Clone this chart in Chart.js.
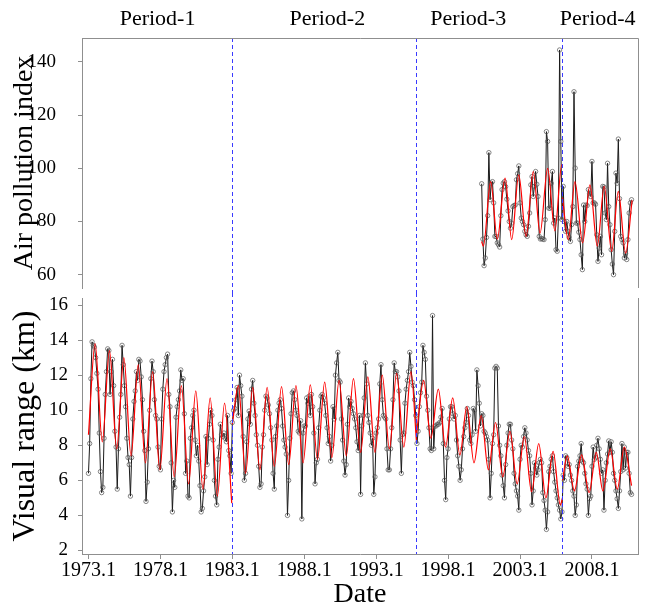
<!DOCTYPE html>
<html>
<head>
<meta charset="utf-8">
<script src="https://cdn.jsdelivr.net/npm/chart.js@4.4.1/dist/chart.umd.min.js"></script>
<style>
  html, body { margin: 0; padding: 0; background: #fff; }
  #wrap { position: relative; width: 646px; height: 609px; }
  #apiChart { position: absolute; left: 0; top: 0; }
  #visChart { position: absolute; left: 0; top: 293px; }
</style>
</head>
<body>
<div id="wrap">
  <canvas id="apiChart" width="646" height="293"></canvas>
  <canvas id="visChart" width="646" height="316"></canvas>
</div>
<script>
/* monthly visual range (km), Jan 1973 - Oct 2010 */
const visPeriod1 = [
  6.4, 8.1, 11.8, 13.9, 13.7, 13.6, 13.0, 12.1, 11.2, 8.7, 6.5, 5.3,   // 1973
  5.6, 8.4, 10.9, 12.2, 13.5, 13.4, 10.9, 12.2, 12.9, 11.4, 8.8, 7.9,  // 1974
  5.5, 7.8, 9.6, 10.9, 13.7, 12.6, 11.4, 10.2, 8.4, 7.3, 6.9, 5.1,     // 1975
  7.3, 9.5, 10.5, 11.1, 12.2, 11.7, 12.9, 12.8, 11.9, 10.6, 8.8, 7.7,  // 1976
  4.8, 5.9, 7.8, 10.0, 11.8, 12.8, 12.2, 10.6, 9.7, 9.5, 7.9, 6.8,     // 1977
  6.6, 9.5, 11.2, 12.2, 12.6, 13.0, 13.2, 10.9, 10.2, 7.0, 4.2, 6.0,   // 1978
  5.6, 9.6, 10.2, 10.6, 11.1, 12.3, 11.7, 11.8, 9.8, 6.4, 7.1, 5.1,    // 1979
  5.0, 8.4, 9.0, 9.7, 10.0, 8.3, 7.4, 8.0, 7.1, 5.7, 4.2, 4.4,         // 1980
  5.4, 6.2, 8.5, 6.9, 8.4, 9.2, 10.0, 9.7, 8.3, 6.0, 5.1, 4.6,         // 1981
  7.2, 7.9, 9.2, 8.6, 8.5, 8.7, 8.4, 8.2, 9.7, 7.7, 7.4, 6.4           // 1982
];
const visPeriod2 = [
  9.3, 10.0, 10.1, 10.6, 11.3, 9.7, 12.0, 11.4, 10.8, 8.5, 6.0, 6.4,   // 1983
  8.2, 9.5, 9.95, 9.2, 11.2, 11.7, 10.4, 9.7, 8.6, 8.0, 6.8, 5.6,      // 1984
  5.8, 7.9, 8.6, 10.0, 10.8, 10.7, 10.3, 9.8, 9.0, 8.3, 6.4, 5.5,      // 1985
  8.5, 9.1, 10.0, 10.4, 10.6, 10.1, 9.1, 8.3, 7.9, 7.5, 4.0, 6.0,      // 1986
  8.4, 9.8, 11.0, 11.1, 10.6, 10.0, 9.7, 8.8, 8.7, 9.4, 3.8, 8.7,      // 1987
  9.1, 9.1, 10.7, 10.4, 10.8, 9.7, 10.9, 10.2, 8.7, 5.8, 7.0, 7.2,     // 1988
  9.0, 10.0, 10.8, 10.9, 10.7, 10.4, 9.7, 9.0, 8.1, 8.5, 7.1, 8.0,     // 1989
  10.2, 9.5, 12.0, 12.7, 13.3, 11.7, 11.6, 9.5, 8.3, 7.1, 6.3, 6.9,    // 1990
  9.2, 10.7, 10.2, 10.5, 10.1, 9.8, 9.5, 9.0, 8.2, 7.7, 9.7, 5.2,      // 1991
  9.1, 9.7, 10.7, 12.7, 11.5, 9.7, 9.3, 8.7, 8.0, 8.4, 5.2, 6.2,       // 1992
  8.7, 9.0, 9.5, 11.5, 12.6, 10.6, 9.7, 9.6, 9.5, 7.8, 6.6, 6.6,       // 1993
  7.8, 9.0, 10.6, 12.7, 12.2, 12.2, 11.9, 11.1, 8.3, 6.4, 8.6, 8.7,    // 1994
  10.4, 11.2, 11.7, 12.2, 13.3, 12.5, 11.6, 11.4, 10.6, 9.7, 8.1, 8.8  // 1995
];
const visPeriod3 = [
  10.2, 11.0, 11.6, 13.7, 13.3, 12.9, 10.8, 10.0, 9.0, 7.8, 7.7, 15.4, // 1996
  7.8, 9.1, 9.1, 9.2, 9.2, 9.3, 9.6, 10.1, 8.1, 6.0, 4.9, 7.3,         // 1997
  7.8, 9.5, 10.2, 10.2, 9.8, 9.5, 9.7, 8.3, 7.4, 6.8, 6.0, 6.6,        // 1998
  7.8, 8.5, 9.0, 9.3, 10.1, 9.7, 8.3, 8.1, 8.6, 10.1, 10.0, 8.8,       // 1999
  12.3, 11.4, 10.4, 9.1, 9.8, 9.7, 8.8, 8.7, 8.5, 8.3, 7.2, 5.0,       // 2000
  6.4, 8.1, 8.6, 12.4, 12.5, 12.4, 9.1, 8.0, 7.4, 6.3, 5.7, 5.0,       // 2001
  6.9, 8.0, 8.7, 9.2, 9.2, 8.3, 7.8, 6.4, 5.8, 5.4, 5.1, 4.3,          // 2002
  7.2, 8.0, 7.9, 8.5, 9.0, 8.7, 8.3, 7.7, 7.4, 6.4, 4.6, 5.4,          // 2003
  7.0, 6.7, 6.3, 6.6, 7.0, 7.2, 7.0, 5.3, 4.85, 4.3, 3.2, 4.2,         // 2004
  6.5, 6.8, 7.2, 7.4, 6.5, 5.9, 5.4, 5.0, 4.6, 4.3, 3.8, 4.2           // 2005
];
const visPeriod4 = [
  6.3, 6.0, 7.4, 7.3, 6.8, 6.9, 6.3, 6.0, 5.4, 5.1, 4.0, 4.6,          // 2006
  6.8, 7.1, 7.4, 8.1, 7.1, 7.0, 6.4, 5.8, 5.5, 4.0, 4.95, 5.1,         // 2007
  6.8, 7.9, 7.2, 7.3, 8.0, 8.4, 7.8, 7.2, 6.4, 6.6, 4.3, 6.0,          // 2008
  7.0, 7.5, 8.25, 7.6, 8.2, 7.6, 6.4, 6.0, 5.4, 4.95, 4.4, 5.4,        // 2009
  6.5, 8.1, 6.6, 7.9, 6.7, 7.6, 7.6, 6.4, 5.3, 5.2                     // 2010
];

/* monthly air pollution index, May 2000 - Oct 2010 */
const apiPeriod3 = [
  94.2, 73.4, 63.4, 66.3, 74.0, 82.2, 105.9, 88.2,                     // 2000 (May-)
  94.4, 95.0, 87.0, 74.4, 74.4, 72.0, 71.3, 70.4, 82.2, 92.0, 94.4, 95.0,
  93.1, 88.4, 84.0, 80.0, 77.5, 79.4, 85.6, 86.0, 86.2, 95.7, 98.0, 100.9,
  87.0, 81.3, 80.0, 78.8, 76.3, 75.0, 74.4, 78.2, 83.2, 93.8, 96.9, 89.4,
  93.2, 98.8, 94.0, 89.4, 74.4, 73.4, 73.6, 73.4, 73.2, 80.7, 113.8, 110.1,
  85.0, 85.0, 94.4, 98.8, 79.4, 81.3, 69.4, 68.8, 81.3, 144.5, 110.1, 80.7
];
const apiPeriod4 = [
  93.2, 80.0, 76.3, 80.0, 76.3, 74.0, 72.5, 78.8, 85.6, 128.8, 100.1, 79.4, // 2006
  79.4, 76.0, 73.2, 67.5, 61.9, 86.2, 80.0, 86.2, 86.0, 92.0, 90.5, 89.4,   // 2007
  102.6, 87.0, 87.0, 86.5, 75.0, 65.0, 70.0, 74.4, 67.5, 93.2, 93.0, 83.2,  // 2008
  80.7, 101.9, 85.6, 78.8, 69.4, 64.0, 60.0, 76.3, 98.2, 94.4, 111.0, 88.6, // 2009
  74.4, 73.2, 72.0, 66.3, 68.0, 65.7, 73.2, 83.2, 87.0, 88.2                // 2010
];

/* fitted seasonal curves: [decimal year, value] at each turning point */
const visFit1 = [[1973.0, 8.6], [1973.46, 13.8], [1973.96, 8.2], [1974.46, 13.4], [1974.96, 7.8],
  [1975.46, 13.0], [1975.96, 7.4], [1976.46, 12.6], [1976.96, 7.0], [1977.46, 12.2], [1977.96, 6.6],
  [1978.46, 11.8], [1978.96, 6.2], [1979.46, 11.4], [1979.96, 5.8], [1980.46, 11.1], [1980.96, 5.5],
  [1981.46, 10.7], [1981.96, 5.1], [1982.46, 10.4], [1982.96, 4.7]];
const visFit2 = [[1983.0, 9.2], [1983.42, 11.4], [1983.92, 6.4], [1984.42, 11.3], [1984.92, 6.6],
  [1985.42, 11.3], [1985.92, 6.8], [1986.42, 11.35], [1986.92, 6.9], [1987.42, 11.4], [1987.92, 7.0],
  [1988.42, 11.45], [1988.92, 7.2], [1989.42, 11.6], [1989.92, 7.3], [1990.42, 11.7], [1990.92, 7.4],
  [1991.42, 11.8], [1991.92, 7.6], [1992.42, 11.9], [1992.92, 7.6], [1993.42, 12.0], [1993.92, 7.8],
  [1994.42, 12.1], [1994.92, 7.9], [1995.42, 12.2], [1995.8, 8.2]];
const visFit3 = [[1995.8, 8.6], [1996.3, 11.7], [1996.8, 8.4], [1997.32, 11.2], [1997.82, 7.9],
  [1998.32, 10.7], [1998.82, 7.45], [1999.3, 10.2], [1999.8, 7.0], [2000.3, 9.7], [2000.8, 6.6],
  [2001.3, 9.3], [2001.8, 6.2], [2002.3, 8.8], [2002.8, 5.8], [2003.3, 8.5], [2003.8, 5.35],
  [2004.3, 8.1], [2004.8, 5.0], [2005.3, 7.65], [2005.8, 4.6], [2005.95, 5.0]];
const visFit4 = [[2005.95, 6.0], [2006.28, 7.4], [2006.78, 5.4], [2007.28, 7.45], [2007.8, 5.3],
  [2008.3, 7.6], [2008.76, 5.4], [2009.27, 7.8], [2009.76, 5.5], [2010.25, 7.9], [2010.75, 5.7]];
const apiFit3 = [[2000.33, 72.5], [2000.45, 70.7], [2000.96, 95.0], [2001.42, 73.4], [2001.96, 96.3],
  [2002.42, 73.2], [2002.91, 97.5], [2003.42, 74.4], [2003.92, 98.8], [2004.39, 75.6], [2004.92, 100.0],
  [2005.42, 76.5], [2005.9, 101.3], [2005.95, 101.0]];
const apiFit4 = [[2005.95, 89.0], [2006.35, 73.2], [2006.82, 95.0], [2007.35, 72.0], [2007.86, 93.8],
  [2008.37, 70.7], [2008.85, 93.2], [2009.37, 68.8], [2009.83, 91.3], [2010.34, 68.1], [2010.79, 88.0]];

/* axes */
const dateTickYears = [1973, 1978, 1983, 1988, 1993, 1998, 2003, 2008];
const dateTickLabels = ['1973.1', '1978.1', '1983.1', '1988.1', '1993.1', '1998.1', '2003.1', '2008.1'];
const apiTicks = [60, 80, 100, 120, 140];
const visTicks = [2, 4, 6, 8, 10, 12, 14, 16];
const periodBreaks = [1983.0, 1995.8, 2005.95];
const periodNames = ['Period-1', 'Period-2', 'Period-3', 'Period-4'];
const periodLabelYears = [1977.8, 1989.6, 1999.4, 2008.4];

const X_MIN = 1972.55, X_MAX = 2011.2;
const AXIS = '#8f8f8f';
const FONT = "'Liberation Serif', 'Times New Roman', serif";
Chart.defaults.font.family = FONT;
Chart.defaults.color = '#000';

// month index 0 = January of startYear
function monthly(startYear, startMonth, values) {
  return values.map((v, i) => ({ x: startYear + (startMonth + i) / 12, y: v }));
}
function pairs(arr) {
  return arr.map(p => ({ x: p[0], y: p[1] }));
}

function observed(data) {
  return {
    data,
    borderColor: '#1a1a1a',
    borderWidth: 1,
    pointRadius: 2.2,
    pointBorderWidth: 0.7,
    pointBorderColor: '#555',
    pointBackgroundColor: 'rgba(255,255,255,0)',
    tension: 0
  };
}
function fitted(data) {
  return {
    data,
    borderColor: '#ff0000',
    borderWidth: 1.2,
    pointRadius: 0,
    cubicInterpolationMode: 'monotone'
  };
}

// keep tick labels from pushing the plot area around
function noLabelPadding(s) {
  s.paddingTop = 0;
  s.paddingBottom = 0;
  s.paddingLeft = 0;
  s.paddingRight = 0;
}

/* frame, period breaks and period names */
const panelDecor = {
  id: 'panelDecor',
  afterDatasetsDraw(chart, args, opts) {
    const { ctx, chartArea: a, scales: { x } } = chart;
    ctx.save();
    ctx.strokeStyle = '#3a3aff';
    ctx.lineWidth = 1;
    ctx.setLineDash([4, 3]);
    periodBreaks.forEach(yr => {
      const px = Math.round(x.getPixelForValue(yr)) + 0.5;
      ctx.beginPath();
      ctx.moveTo(px, opts.isTop ? a.top : 0);
      ctx.lineTo(px, opts.isTop ? chart.height : a.bottom);
      ctx.stroke();
    });
    ctx.setLineDash([]);

    ctx.strokeStyle = AXIS;
    ctx.lineWidth = 1;
    ctx.beginPath();
    const r = Math.round(a.right) + 0.5;
    if (opts.isTop) {
      const t = Math.round(a.top) + 0.5;
      ctx.moveTo(a.left, t);
      ctx.lineTo(r, t);
      ctx.lineTo(r, a.bottom);
    } else {
      ctx.moveTo(r, a.top);
      ctx.lineTo(r, a.bottom);
    }
    ctx.stroke();

    if (opts.isTop) {
      ctx.fillStyle = '#000';
      ctx.font = '22px ' + FONT;
      ctx.textAlign = 'center';
      ctx.textBaseline = 'middle';
      periodNames.forEach((name, i) => {
        ctx.fillText(name, x.getPixelForValue(periodLabelYears[i]), 19);
      });
    }
    ctx.restore();
  }
};

function panelOptions(isTop, yMin, yMax, yTicks, yTitle, titleSize, titlePad) {
  return {
    responsive: false,
    animation: false,
    events: [],
    devicePixelRatio: 1,
    layout: {
      padding: isTop ? { top: 38, right: 8, bottom: 5, left: 0 }
                     : { top: 5, right: 8, bottom: 0, left: 0 }
    },
    plugins: {
      legend: { display: false },
      tooltip: { enabled: false },
      panelDecor: { isTop }
    },
    scales: {
      x: {
        type: 'linear',
        min: X_MIN,
        max: X_MAX,
        display: !isTop,
        afterBuildTicks: s => { s.ticks = dateTickYears.map(v => ({ value: v })); },
        afterFit: s => {
          noLabelPadding(s);
          if (!isTop) s.height = 55;
        },
        ticks: {
          callback: (v, i) => dateTickLabels[i],
          font: { size: 20 },
          color: '#000',
          padding: 0,
          maxRotation: 0,
          autoSkip: false
        },
        grid: { drawOnChartArea: false, tickLength: 5, color: AXIS },
        border: { color: AXIS, width: 1 },
        title: { display: true, text: 'Date', font: { size: 28, lineHeight: 1 }, padding: 0, color: '#000' }
      },
      y: {
        type: 'linear',
        min: yMin,
        max: yMax,
        afterBuildTicks: s => { s.ticks = yTicks.map(v => ({ value: v })); },
        afterFit: s => {
          noLabelPadding(s);
          s.width = 82;
        },
        ticks: { font: { size: 19 }, color: '#000', padding: isTop ? 22 : 10 },
        grid: { drawOnChartArea: false, tickLength: 4, color: AXIS },
        border: { color: AXIS, width: 1 },
        title: {
          display: true, text: yTitle, color: '#000',
          font: { size: titleSize, lineHeight: 1.2 },
          padding: { top: titlePad, bottom: 0 }
        }
      }
    }
  };
}

new Chart(document.getElementById('apiChart'), {
  type: 'line',
  data: {
    datasets: [
      fitted(pairs(apiFit3)),
      fitted(pairs(apiFit4)),
      observed(monthly(2000, 4, apiPeriod3.concat(apiPeriod4)))
    ]
  },
  options: panelOptions(true, 55, 149, apiTicks, 'Air pollution index', 28, 8),
  plugins: [panelDecor]
});

new Chart(document.getElementById('visChart'), {
  type: 'line',
  data: {
    datasets: [
      fitted(pairs(visFit1)),
      fitted(pairs(visFit2)),
      fitted(pairs(visFit3)),
      fitted(pairs(visFit4)),
      observed(monthly(1973, 0, visPeriod1.concat(visPeriod2, visPeriod3, visPeriod4)))
    ]
  },
  options: panelOptions(false, 1.8, 16.4, visTicks, 'Visual range (km)', 32, 6),
  plugins: [panelDecor]
});
</script>
</body>
</html>
